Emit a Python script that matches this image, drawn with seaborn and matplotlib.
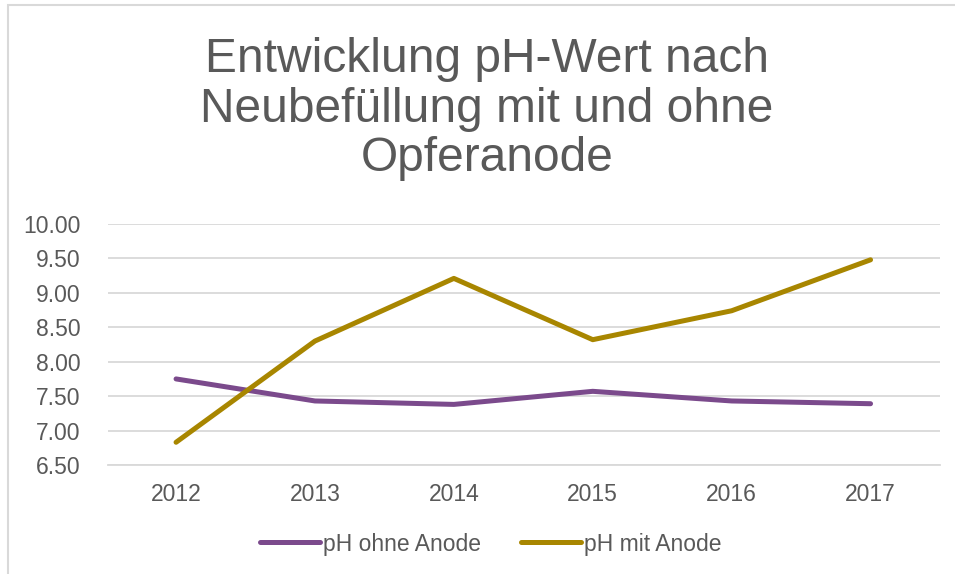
import pandas as pd
import numpy as np
import seaborn as sns
import matplotlib.pyplot as plt
from matplotlib.patches import Rectangle

# data
years = ["2012", "2013", "2014", "2015", "2016", "2017"]
ph_ohne = [7.75, 7.43, 7.38, 7.57, 7.43, 7.39]
ph_mit = [6.83, 8.30, 9.21, 8.32, 8.74, 9.48]
series_names = ["pH ohne Anode", "pH mit Anode"]
y_ticks = [6.5, 7.0, 7.5, 8.0, 8.5, 9.0, 9.5, 10.0]

sns.set_style("white")
plt.rcParams['font.family'] = ['Liberation Sans', 'DejaVu Sans']

text_grey = "#595959"
colors = {"pH ohne Anode": "#7B4A8C", "pH mit Anode": "#A88600"}

df = pd.DataFrame({
    "Jahr": years * 2,
    "pH": ph_ohne + ph_mit,
    "Serie": [series_names[0]] * len(years) + [series_names[1]] * len(years),
})
df["pos"] = df["Jahr"].map({y: i for i, y in enumerate(years)})

fig = plt.figure(figsize=(9.55, 5.74), dpi=100)
ax = fig.add_axes([108 / 955, 1 - 465 / 574, (940 - 108) / 955, (465 - 224) / 574])

sns.lineplot(data=df, x="pos", y="pH", hue="Serie", palette=colors,
             hue_order=series_names, linewidth=3.6, ax=ax, legend=False)
for line in ax.get_lines():
    line.set_solid_capstyle("round")
    line.set_solid_joinstyle("round")

ax.set_xlim(-0.49, 5.5)
ax.set_ylim(6.5, 10.0)
ax.set_xticks(range(len(years)))
ax.set_xticklabels(years)
ax.set_yticks(y_ticks)
ax.set_yticklabels([f"{t:.2f}" for t in y_ticks])
ax.yaxis.grid(True, color="#D9D9D9", linewidth=1.3)
ax.set_axisbelow(True)
for s in ["top", "right", "left"]:
    ax.spines[s].set_visible(False)
ax.spines["bottom"].set_color("#D9D9D9")
ax.spines["bottom"].set_linewidth(1.3)
ax.tick_params(axis="both", colors=text_grey, labelsize=16.5, length=0)
ax.tick_params(axis="x", pad=13)
ax.tick_params(axis="y", pad=20)
ax.set_xlabel("")
ax.set_ylabel("")

fig.text(487 / 955, 1 - 109 / 574, "Entwicklung pH-Wert nach\nNeubefüllung mit und ohne\nOpferanode",
         ha="center", va="center", fontsize=34.5, color=text_grey, linespacing=1.12)

# legend at the bottom
handles = [plt.Line2D([0], [0], color=colors[n], linewidth=3.6, solid_capstyle="round") for n in series_names]
fig.legend(handles, series_names, loc="center", bbox_to_anchor=(491 / 955, 1 - 544 / 574),
           ncol=2, frameon=False, fontsize=16.5, labelcolor=text_grey,
           handlelength=2.6, handletextpad=0.15, columnspacing=1.75)

# chart border
fig.patches.append(Rectangle((8 / 955, -0.1), 1.2, 1 - 5 / 574 + 0.1, transform=fig.transFigure,
                             fill=False, edgecolor="#D9D9D9", linewidth=1.5))

fig.savefig("out.png", dpi=100)
